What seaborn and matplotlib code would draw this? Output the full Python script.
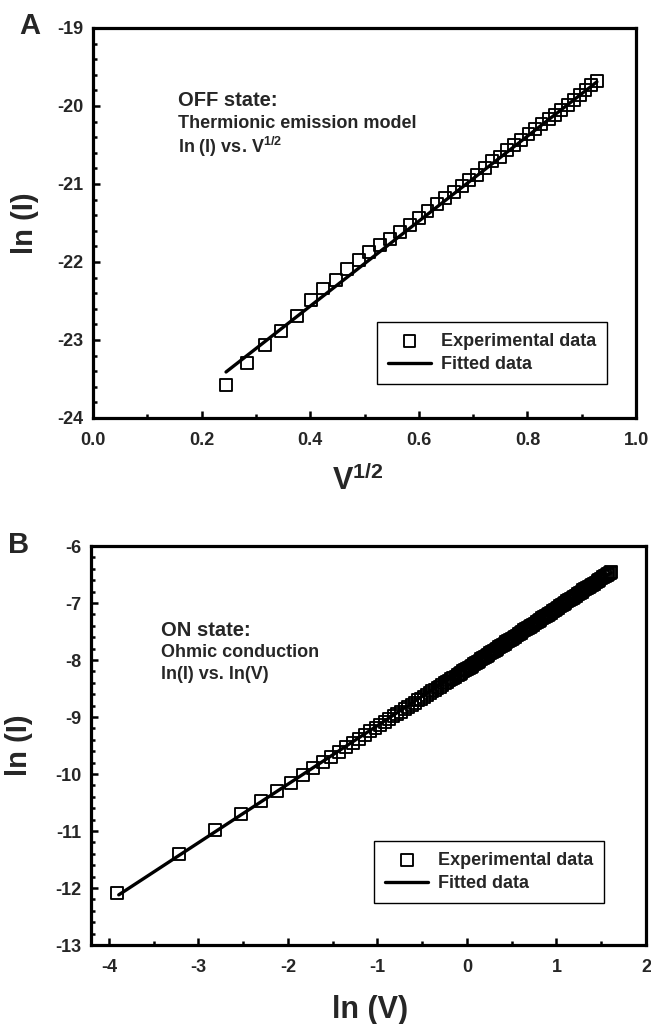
import matplotlib.pyplot as plt
import matplotlib.ticker as mticker
import pandas as pd
import seaborn as sns

# Panel A - OFF state, ln(I) vs V^1/2
off_x = [0.245, 0.283, 0.317, 0.346, 0.375, 0.401, 0.424, 0.447, 0.468, 0.489,
         0.509, 0.529, 0.547, 0.565, 0.584, 0.600, 0.616, 0.633, 0.648, 0.664,
         0.679, 0.693, 0.707, 0.722, 0.735, 0.750, 0.762, 0.775, 0.789, 0.802,
         0.814, 0.826, 0.839, 0.851, 0.862, 0.874, 0.886, 0.897, 0.907, 0.917, 0.928]
off_y = [-23.58, -23.30, -23.06, -22.89, -22.69, -22.49, -22.34, -22.23, -22.09, -21.97,
         -21.87, -21.78, -21.71, -21.62, -21.53, -21.44, -21.35, -21.26, -21.18, -21.10,
         -21.03, -20.95, -20.88, -20.80, -20.71, -20.65, -20.56, -20.50, -20.43, -20.36,
         -20.30, -20.23, -20.17, -20.12, -20.05, -19.99, -19.92, -19.86, -19.79, -19.73, -19.68]
off_fit_x = [0.245, 0.928]
off_fit_y = [-23.41, -19.69]

# Panel B - ON state, ln(I) vs ln(V)
on_x = [-3.912, -3.219, -2.813, -2.526, -2.303, -2.120, -1.966, -1.833, -1.715, -1.609,
        -1.514, -1.427, -1.347, -1.273, -1.204, -1.139, -1.079, -1.022, -0.968, -0.916,
        -0.868, -0.821, -0.777, -0.734, -0.693, -0.654, -0.616, -0.580, -0.545, -0.511,
        -0.478, -0.446, -0.416, -0.386, -0.357, -0.329, -0.301, -0.274, -0.248, -0.223,
        -0.198, -0.174, -0.151, -0.128, -0.105, -0.083, -0.062, -0.041, -0.020, 0.000,
        0.02, 0.04, 0.06, 0.08, 0.10, 0.12, 0.14, 0.16, 0.18, 0.20,
        0.22, 0.24, 0.26, 0.28, 0.30, 0.32, 0.34, 0.36, 0.38, 0.40,
        0.42, 0.44, 0.46, 0.48, 0.50, 0.52, 0.54, 0.56, 0.58, 0.60,
        0.62, 0.64, 0.66, 0.68, 0.70, 0.72, 0.74, 0.76, 0.78, 0.80,
        0.82, 0.84, 0.86, 0.88, 0.90, 0.92, 0.94, 0.96, 0.98, 1.00,
        1.02, 1.04, 1.06, 1.08, 1.10, 1.12, 1.14, 1.16, 1.18, 1.20,
        1.22, 1.24, 1.26, 1.28, 1.30, 1.32, 1.34, 1.36, 1.38, 1.40,
        1.42, 1.44, 1.46, 1.48, 1.50, 1.52, 1.54, 1.56, 1.58, 1.60, 1.609]
on_y = [-12.09, -11.40, -10.99, -10.71, -10.48, -10.30, -10.15, -10.01, -9.90, -9.79,
        -9.70, -9.61, -9.53, -9.45, -9.38, -9.31, -9.25, -9.20, -9.14, -9.09,
        -9.04, -8.99, -8.95, -8.91, -8.86, -8.82, -8.79, -8.75, -8.71, -8.68,
        -8.65, -8.61, -8.58, -8.55, -8.52, -8.49, -8.47, -8.44, -8.41, -8.39,
        -8.36, -8.34, -8.31, -8.29, -8.27, -8.24, -8.22, -8.20, -8.18, -8.16,
        -8.14, -8.12, -8.10, -8.07, -8.05, -8.03, -8.01, -7.99, -7.97, -7.95,
        -7.93, -7.91, -7.88, -7.86, -7.84, -7.82, -7.80, -7.78, -7.76, -7.74,
        -7.72, -7.69, -7.67, -7.65, -7.63, -7.61, -7.59, -7.57, -7.55, -7.53,
        -7.50, -7.48, -7.46, -7.44, -7.42, -7.40, -7.38, -7.36, -7.33, -7.31,
        -7.29, -7.27, -7.25, -7.23, -7.21, -7.19, -7.17, -7.14, -7.12, -7.10,
        -7.08, -7.06, -7.04, -7.02, -7.00, -6.97, -6.95, -6.93, -6.91, -6.89,
        -6.87, -6.85, -6.83, -6.81, -6.78, -6.76, -6.74, -6.72, -6.70, -6.68,
        -6.66, -6.64, -6.61, -6.59, -6.57, -6.55, -6.53, -6.51, -6.49, -6.47, -6.46]
on_fit_x = [-3.89, 1.61]
on_fit_y = [-12.12, -6.47]

sns.set_style("ticks")
plt.rcParams['font.family'] = ['Liberation Sans', 'DejaVu Sans']
plt.rcParams['font.weight'] = 'bold'
plt.rcParams['axes.unicode_minus'] = False
plt.rcParams['mathtext.fontset'] = 'custom'
plt.rcParams['mathtext.bf'] = 'Liberation Sans:bold'
plt.rcParams['mathtext.rm'] = 'Liberation Sans:bold'
plt.rcParams['mathtext.it'] = 'Liberation Sans:bold'

W, H = 651, 1024
fig = plt.figure(figsize=(W / 100, H / 100), dpi=100)


def add_ax(l, t, r, b):
    # pixel box -> figure fraction
    return fig.add_axes([l / W, 1 - b / H, (r - l) / W, (b - t) / H])


def draw_panel(ax, x, y, fx, fy, xlim, ylim, xmaj, xmin, lines, text_xy, leg_xy,
               xlabel, ylabel, xlab_xy, ylab_xy, xfmt):
    pts = pd.DataFrame({'x': x, 'y': y})
    fit = pd.DataFrame({'x': fx, 'y': fy})
    sns.scatterplot(data=pts, x='x', y='y', marker='s', s=74, facecolor='none',
                    edgecolor='black', linewidth=1.35, ax=ax, label='Experimental data', zorder=3)
    sns.lineplot(data=fit, x='x', y='y', color='black', linewidth=2.4, ax=ax,
                 label='Fitted data', sort=False, estimator=None, zorder=4)
    ax.set_xlim(*xlim)
    ax.set_ylim(*ylim)
    ax.xaxis.set_major_locator(mticker.MultipleLocator(xmaj))
    ax.xaxis.set_minor_locator(mticker.MultipleLocator(xmin))
    ax.xaxis.set_major_formatter(mticker.FormatStrFormatter(xfmt))
    ax.yaxis.set_major_locator(mticker.MultipleLocator(1))
    ax.yaxis.set_minor_locator(mticker.MultipleLocator(0.2))
    ax.yaxis.set_major_formatter(mticker.FormatStrFormatter('%d'))
    ax.tick_params(which='both', direction='in', top=False, right=False,
                   width=1.8, labelsize=13, color='black')
    ax.tick_params(which='major', length=5)
    ax.tick_params(which='minor', length=3)
    ax.tick_params(axis='x', pad=10)
    ax.tick_params(axis='y', pad=7)
    for sp in ax.spines.values():
        sp.set_linewidth(2.3)
        sp.set_color('black')
    ax.set_xlabel(xlabel, fontsize=22, fontweight='bold')
    ax.set_ylabel(ylabel, fontsize=21, fontweight='bold')
    ax.xaxis.set_label_coords(*xlab_xy)
    ax.yaxis.set_label_coords(*ylab_xy)
    tx, ty = text_xy
    ax.text(tx, ty[0], lines[0], transform=ax.transAxes, fontsize=14.5,
            fontweight='bold', va='center', ha='left')
    ax.text(tx, ty[1], lines[1], transform=ax.transAxes, fontsize=13,
            fontweight='bold', va='center', ha='left')
    ax.text(tx, ty[2], lines[2], transform=ax.transAxes, fontsize=13,
            fontweight='bold', va='center', ha='left')
    leg = ax.legend(loc='upper left', bbox_to_anchor=leg_xy, borderaxespad=0,
                    fontsize=13, frameon=True, fancybox=False, framealpha=1,
                    edgecolor='black', handlelength=2.4, handletextpad=0.55,
                    borderpad=0.6, labelspacing=0.35)
    leg.get_frame().set_linewidth(1.0)
    for t in leg.get_texts():
        t.set_fontweight('bold')


ax1 = add_ax(93, 28, 636, 418)
draw_panel(ax1, off_x, off_y, off_fit_x, off_fit_y, (0, 1.0), (-24, -19), 0.2, 0.1,
           ['OFF state:', 'Thermionic emission model', r'ln (I) vs. $\mathbf{V^{1/2}}$'],
           (0.157, (0.815, 0.756, 0.695)), (0.523, 0.246),
           r'$\mathbf{V^{1/2}}$', 'ln (I)', (0.488, -0.12), (-0.10, 0.5), '%.1f')

ax2 = add_ax(91, 546, 646, 945)
draw_panel(ax2, on_x, on_y, on_fit_x, on_fit_y, (-4.2, 2.0), (-13, -6), 1, 0.5,
           ['ON state:', 'Ohmic conduction', 'ln(I) vs. ln(V)'],
           (0.126, (0.789, 0.732, 0.677)), (0.510, 0.261),
           'ln (V)', 'ln (I)', (0.503, -0.125), (-0.105, 0.5), '%d')

fig.text(30 / W, 1 - 26 / H, 'A', fontsize=21, fontweight='bold', ha='center', va='center')
fig.text(19 / W, 1 - 545 / H, 'B', fontsize=21, fontweight='bold', ha='center', va='center')

fig.savefig('out.png', dpi=100)
